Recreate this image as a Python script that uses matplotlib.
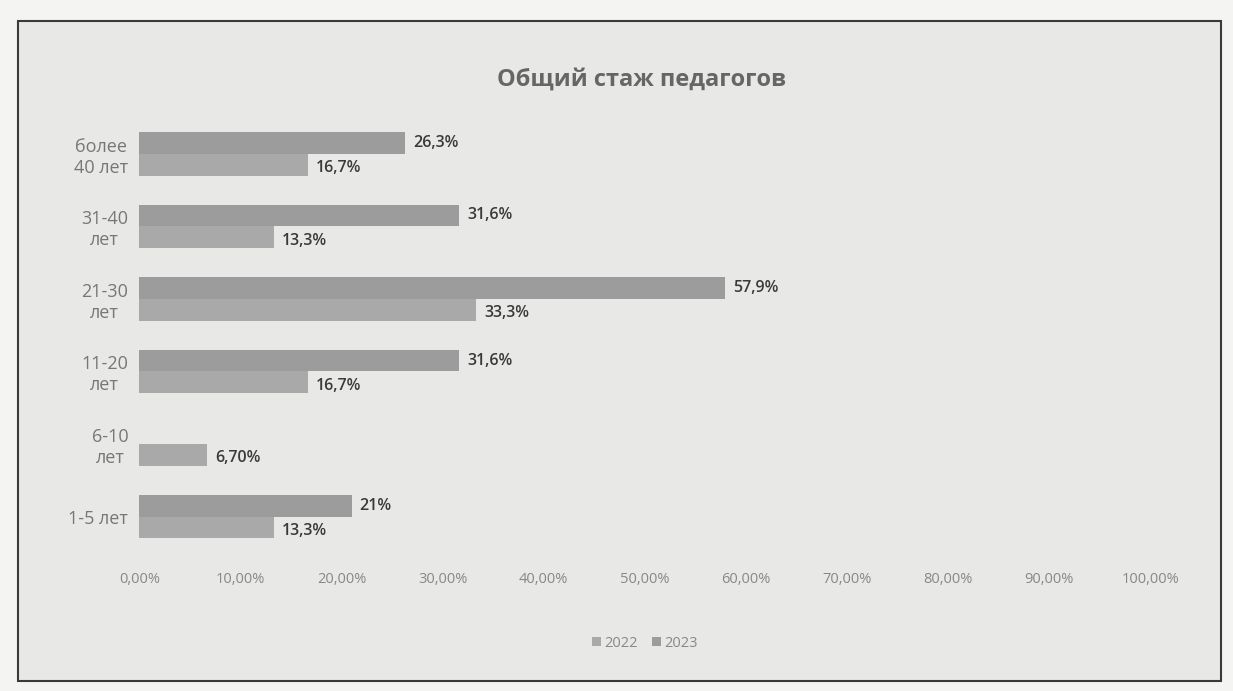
import matplotlib.pyplot as plt
from matplotlib.patches import Rectangle
import numpy as np

plt.rcParams['font.family'] = ['Open Sans', 'DejaVu Sans']

# Data (bottom to top, as in the chart)
categories = ["1-5 лет", "6-10\nлет", "11-20\nлет", "21-30\nлет", "31-40\nлет", "более\n40 лет"]
values_2022 = [13.3, 6.7, 16.7, 33.3, 13.3, 16.7]
values_2023 = [21.0, 0.0, 31.6, 57.9, 31.6, 26.3]
labels_2022 = ["13,3%", "6,70%", "16,7%", "33,3%", "13,3%", "16,7%"]
labels_2023 = ["21%", "", "31,6%", "57,9%", "31,6%", "26,3%"]
xticks = [0, 10, 20, 30, 40, 50, 60, 70, 80, 90, 100]

fig = plt.figure(figsize=(12.33, 6.91), dpi=100, facecolor="#f4f4f2")
# chart frame (paper area)
fig.patches.append(Rectangle((0.015, 0.015), 0.975, 0.955, transform=fig.transFigure,
                             facecolor="#e8e8e6", edgecolor="#3a3a3a", linewidth=1.5,
                             zorder=-10))

ax = fig.add_axes([0.113, 0.2, 0.82, 0.63])
ax.set_facecolor("none")

y = np.arange(len(categories))
h = 0.3
bars1 = ax.barh(y - h / 2, values_2022, height=h, color="#a9a9a9", label="2022")
bars2 = ax.barh(y + h / 2, values_2023, height=h, color="#9c9c9c", label="2023")

for i in range(len(categories)):
    if labels_2022[i]:
        ax.text(values_2022[i] + 0.8, y[i] - h / 2 - 0.05, labels_2022[i], va="center", ha="left",
                fontsize=11.5, color="#3a3a3a", fontweight="semibold")
    if labels_2023[i]:
        ax.text(values_2023[i] + 0.8, y[i] + h / 2, labels_2023[i], va="center", ha="left",
                fontsize=11.5, color="#3a3a3a", fontweight="semibold")

ax.set_xlim(0, 100)
ax.set_ylim(-0.5, len(categories) - 0.5)
ax.set_xticks(xticks)
ax.set_xticklabels([f"{t},00%" for t in xticks], fontsize=10.5, color="#888888")
ax.set_yticks(y)
ax.set_yticklabels(categories, fontsize=13, color="#777777", multialignment="center")
ax.tick_params(length=0, pad=8)
ax.tick_params(axis="x", pad=14)
for s in ax.spines.values():
    s.set_visible(False)

fig.text(0.52, 0.885, "Общий стаж педагогов", ha="center", va="center",
         fontsize=17, fontweight="bold", color="#666666")

ax.legend(loc="upper center", bbox_to_anchor=(0.5, -0.16), ncol=2, frameon=False,
          fontsize=10.5, labelcolor="#888888", handlelength=0.6, handleheight=0.6,
          handletextpad=0.2, columnspacing=1.0)

plt.savefig("out.png", dpi=100, facecolor=fig.get_facecolor())
